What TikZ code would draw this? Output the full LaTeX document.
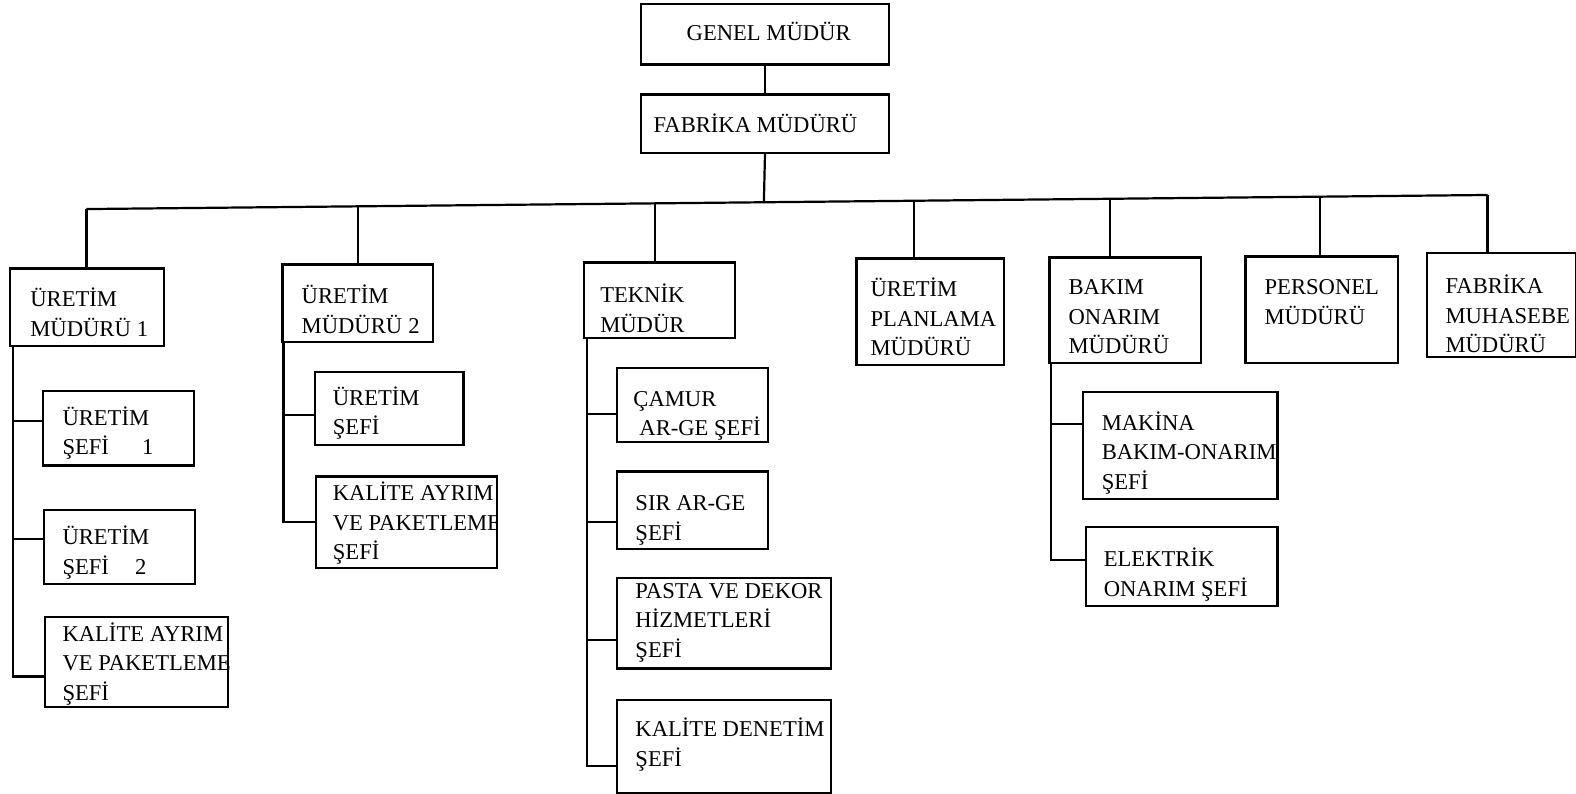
\documentclass[tikz,border=0pt]{standalone}
\usepackage{fontspec}
\setmainfont{Liberation Serif}
% several left-aligned lines; the baseline is that of the first line
\newcommand\txtlines[1]{\vtop{\halign{##\hfil\cr#1\crcr}}}
% a box given by its top-left and bottom-right corners
\newcommand\orgbox[5]{\node[orgunit, minimum width={#4-#2}, minimum height={#5-#3}] (#1) at (#2,#3) {};}
\begin{document}
\begin{tikzpicture}[x=1pt,y=-1pt,
  orgunit/.style={draw, line width=2.2pt, rectangle, inner sep=0pt, anchor=north west},
  boxtext/.style={anchor=base west, inner sep=0pt, font=\fontsize{22.5}{29.5}\selectfont},
  link/.style={line width=2.2pt}]
\useasboundingbox (0,0) rectangle (1568,789);

% ---- top management
\orgbox{gm}{637}{3}{883}{63}
\node[boxtext] (gm-t) at (683,40) {GENEL MÜDÜR};
\orgbox{fm}{637}{93}{883}{151}
\node[boxtext] (fm-t) at (650,132) {FABRİKA MÜDÜRÜ};

% ---- department heads
\orgbox{um1}{9}{266}{162}{343}
\node[boxtext] (um1-t) at (30,305) {\txtlines{ÜRETİM\cr MÜDÜRÜ\hspace{6pt}1}};
\orgbox{um2}{280}{262}{430}{339}
\node[boxtext] (um2-t) at (300,302) {\txtlines{ÜRETİM\cr MÜDÜRÜ\hspace{6pt}2}};
\orgbox{tm}{580}{260}{730}{335}
\node[boxtext] (tm-t) at (597,301) {\txtlines{TEKNİK\cr MÜDÜR}};
\orgbox{upm}{851}{256}{998}{362}
\node[boxtext] (upm-t) at (866,295) {\txtlines{ÜRETİM\cr PLANLAMA\cr MÜDÜRÜ}};
\orgbox{bom}{1043}{255}{1194}{360}
\node[boxtext] (bom-t) at (1063,293) {\txtlines{BAKIM\cr ONARIM\cr MÜDÜRÜ}};
\orgbox{pm}{1238}{254}{1390}{360}
\node[boxtext] (pm-t) at (1258,293) {\txtlines{PERSONEL\cr MÜDÜRÜ}};
\orgbox{fmm}{1419}{251}{1567}{354}
\node[boxtext] (fmm-t) at (1438,292) {\txtlines{FABRİKA\cr MUHASEBE\cr MÜDÜRÜ}};

% ---- chiefs under production manager 1
\orgbox{us1}{42}{388}{192}{462}
\node[boxtext] (us1-t) at (62,423) {\txtlines{ÜRETİM\cr ŞEFİ\hspace{33pt}1}};
\orgbox{us2}{43}{506}{193}{580}
\node[boxtext] (us2-t) at (62,542) {\txtlines{ÜRETİM\cr ŞEFİ\hspace{26pt}2}};
\orgbox{ka1}{44}{613}{226}{702}
\begin{scope}
  \clip (ka1.north west) rectangle (ka1.south east);
  \node[boxtext] (ka1-t) at (62,638) {\txtlines{KALİTE AYRIM\cr VE PAKETLEME\cr ŞEFİ}};
\end{scope}

% ---- chiefs under production manager 2
\orgbox{us3}{312}{369}{460}{442}
\node[boxtext] (us3-t) at (331,403) {\txtlines{ÜRETİM\cr ŞEFİ}};
\orgbox{ka2}{313}{473}{493}{564}
\begin{scope}
  \clip (ka2.north west) rectangle (ka2.south east);
  \node[boxtext] (ka2-t) at (331,498) {\txtlines{KALİTE AYRIM\cr VE PAKETLEME\cr ŞEFİ}};
\end{scope}

% ---- chiefs under technical manager
\orgbox{ca}{613}{365}{763}{439}
\node[boxtext] (ca-t) at (630,404) {\txtlines{ÇAMUR\cr\hspace{6pt}AR-GE ŞEFİ}};
\orgbox{sr}{613}{468}{763}{545}
\node[boxtext] (sr-t) at (632,508) {\txtlines{SIR AR-GE\cr ŞEFİ}};
\orgbox{pa}{613}{574}{826}{664}
\node[boxtext] (pa-t) at (632,595) {\txtlines{PASTA VE DEKOR\cr HİZMETLERİ\cr ŞEFİ}};
\orgbox{kd}{613}{695}{826}{788}
\node[boxtext] (kd-t) at (632,733) {\txtlines{KALİTE DENETİM\cr ŞEFİ}};

% ---- chiefs under maintenance manager
\orgbox{mk}{1076}{389}{1270}{495}
\begin{scope}
  \clip (mk.north west) rectangle (mk.south east);
  \node[boxtext] (mk-t) at (1096,428) {\txtlines{MAKİNA\cr BAKIM-ONARIM\cr ŞEFİ}};
\end{scope}
\orgbox{el}{1079}{523}{1270}{602}
\node[boxtext] (el-t) at (1098,564) {\txtlines{ELEKTRİK\cr ONARIM ŞEFİ}};

% ---- connectors: top of the chart (the bus runs slightly uphill)
\draw[link] (gm.south) -- (fm.north);
\coordinate (d1) at (86,208);
\coordinate (d2) at (356,205.3);
\coordinate (d3) at (652,202.3);
\coordinate (dm) at (760,201.2);
\coordinate (d4) at (909,199.7);
\coordinate (d5) at (1104,197.8);
\coordinate (d6) at (1313,195.7);
\coordinate (d7) at (1480,194);
\draw[link] (fm.south) -- (dm);
\draw[link] (d1) -- (d7);
\draw[link] (d1) -- (d1 |- um1.north);
\draw[link] (d2) -- (d2 |- um2.north);
\draw[link] (d3) -- (d3 |- tm.north);
\draw[link] (d4) -- (d4 |- upm.north);
\draw[link] (d5) -- (d5 |- bom.north);
\draw[link] (d6) -- (d6 |- pm.north);
\draw[link] (d7) -- (d7 |- fmm.north);

% ---- production manager 1 trunk
\coordinate (a1) at (13,419);
\coordinate (a2) at (13,536);
\coordinate (a3) at (13,673);
\draw[link] (a3 |- um1.south) -- (a3) -- (a3 -| ka1.west);
\draw[link] (a1) -- (a1 -| us1.west);
\draw[link] (a2) -- (a2 -| us2.west);

% ---- production manager 2 trunk
\coordinate (b1) at (282,413);
\coordinate (b2) at (282,519);
\draw[link] (b2 |- um2.south) -- (b2) -- (b2 -| ka2.west);
\draw[link] (b1) -- (b1 -| us3.west);

% ---- technical manager trunk
\coordinate (c1) at (584,412);
\coordinate (c2) at (584,519);
\coordinate (c3) at (584,637);
\coordinate (c4) at (584,762);
\draw[link] (c4 |- tm.south) -- (c4) -- (c4 -| kd.west);
\draw[link] (c1) -- (c1 -| ca.west);
\draw[link] (c2) -- (c2 -| sr.west);
\draw[link] (c3) -- (c3 -| pa.west);

% ---- maintenance manager trunk
\coordinate (e1) at (1046,422);
\coordinate (e2) at (1046,557);
\draw[link] (e2 |- bom.south) -- (e2) -- (e2 -| el.west);
\draw[link] (e1) -- (e1 -| mk.west);
\end{tikzpicture}
\end{document}
